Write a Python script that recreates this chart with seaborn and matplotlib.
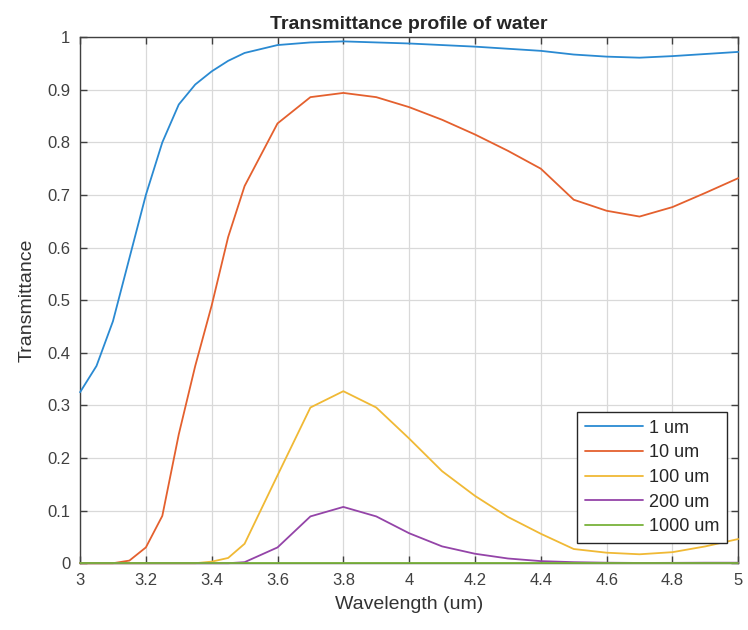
import matplotlib
matplotlib.use("Agg")
import matplotlib.pyplot as plt
import seaborn as sns
import pandas as pd

wavelength = [3.0, 3.05, 3.1, 3.15, 3.2, 3.25, 3.3, 3.35, 3.4, 3.45, 3.5, 3.6, 3.7,
              3.8, 3.9, 4.0, 4.1, 4.2, 4.3, 4.4, 4.5, 4.6, 4.7, 4.8, 4.9, 5.0]
t_1um = [0.325, 0.375, 0.46, 0.58, 0.70, 0.80, 0.872, 0.91, 0.935, 0.955, 0.97, 0.985, 0.99,
         0.992, 0.99, 0.988, 0.985, 0.982, 0.978, 0.974, 0.967, 0.963, 0.961, 0.964, 0.968, 0.972]
t_10um = [0, 0, 0, 0.005, 0.03, 0.09, 0.245, 0.375, 0.49, 0.62, 0.717, 0.836, 0.886,
          0.894, 0.886, 0.867, 0.843, 0.815, 0.784, 0.75, 0.691, 0.670, 0.659, 0.677, 0.704, 0.732]
t_100um = [0, 0, 0, 0, 0, 0, 0, 0, 0.003, 0.01, 0.037, 0.167, 0.296,
           0.327, 0.296, 0.237, 0.175, 0.128, 0.088, 0.056, 0.027, 0.02, 0.017, 0.021, 0.032, 0.046]
t_200um = [0, 0, 0, 0, 0, 0, 0, 0, 0, 0, 0.002, 0.03, 0.089,
           0.107, 0.089, 0.057, 0.032, 0.018, 0.009, 0.004, 0.002, 0.001, 0.0005, 0.0007, 0.001, 0.001]
t_1000um = [0.0] * 26
labels = ["1 um", "10 um", "100 um", "200 um", "1000 um"]
colors = ["#2a8ad2", "#e4602e", "#f0b935", "#9444a8", "#78b23a"]

frames = []
for lab, vals in zip(labels, [t_1um, t_10um, t_100um, t_200um, t_1000um]):
    frames.append(pd.DataFrame({"Wavelength": wavelength, "Transmittance": vals, "Thickness": lab}))
df = pd.concat(frames, ignore_index=True)

sns.set_style("white")
plt.rcParams["font.family"] = ["Liberation Sans", "DejaVu Sans"]

fig = plt.figure(figsize=(7.48, 6.30), dpi=100)
ax = fig.add_axes([0.107, 0.106, 0.880, 0.835])

sns.lineplot(data=df, x="Wavelength", y="Transmittance", hue="Thickness",
             hue_order=labels, palette=colors, linewidth=1.3, ax=ax, legend=True)
for ln in ax.get_lines():
    ln.set_zorder(3)
    ln.set_clip_on(False)

ax.set_xlim(3, 5)
ax.set_ylim(0, 1)
ax.set_xticks([3, 3.2, 3.4, 3.6, 3.8, 4, 4.2, 4.4, 4.6, 4.8, 5])
ax.set_xticklabels(["3", "3.2", "3.4", "3.6", "3.8", "4", "4.2", "4.4", "4.6", "4.8", "5"])
ax.set_yticks([0, 0.1, 0.2, 0.3, 0.4, 0.5, 0.6, 0.7, 0.8, 0.9, 1])
ax.set_yticklabels(["0", "0.1", "0.2", "0.3", "0.4", "0.5", "0.6", "0.7", "0.8", "0.9", "1"])
ax.grid(True, color="#d9d9d9", linewidth=0.9)
ax.set_axisbelow(True)
for s in ax.spines.values():
    s.set_visible(True)
    s.set_color("#404040")
    s.set_linewidth(1.0)
ax.tick_params(direction="in", length=5, width=1, colors="#404040", labelcolor="#404040",
               labelsize=12, top=True, right=True, bottom=True, left=True, pad=7)

ax.set_xlabel("Wavelength (um)", fontsize=14, color="#333333", labelpad=6)
ax.set_ylabel("Transmittance", fontsize=14, color="#333333", labelpad=8)
ax.set_title("Transmittance profile of water", fontsize=14, fontweight="bold", pad=6)

leg = ax.legend(loc="lower right", bbox_to_anchor=(0.983, 0.038), borderaxespad=0,
                fancybox=False, edgecolor="#262626", framealpha=1, fontsize=13,
                handlelength=3.2, handletextpad=0.3, labelspacing=0.42, borderpad=0.45)
leg.get_frame().set_linewidth(1.0)
leg.set_zorder(5)
for t in leg.get_texts():
    t.set_color("#262626")

fig.savefig("out.png", dpi=100)
